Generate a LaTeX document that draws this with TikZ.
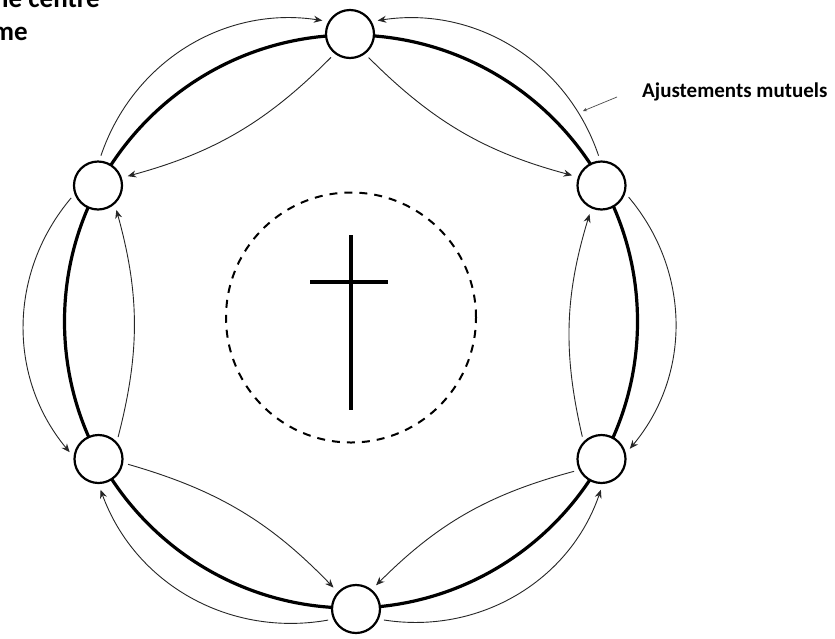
\documentclass[tikz,border=0pt]{standalone}
\usepackage{fontspec}
\setmainfont{Carlito}
\usetikzlibrary{arrows.meta}
\begin{document}
\begin{tikzpicture}[x=1pt,y=1pt,
  member/.style={circle,draw=black,line width=2.2pt,fill=white,minimum size=48pt,inner sep=0pt},
  ring/.style={line width=3.2pt,draw=black},
  flow/.style={line width=0.9pt,draw=black!85,-{Stealth[length=8.5pt,width=7pt]},shorten <=5pt,shorten >=6pt},
  lbl/.style={font=\bfseries\fontsize{21}{25}\selectfont,inner sep=0pt,text=black},
  bigtxt/.style={font=\bfseries\fontsize{27}{30}\selectfont,inner sep=0pt,text=black},
  pointer/.style={line width=0.7pt,draw=black!70,-{Stealth[length=4pt,width=3.5pt]}}
]
\useasboundingbox (0,0) rectangle (835,-638);
\fill[white] (0,0) rectangle (835,-638);
\clip (0,0) rectangle (835,-638);
% outer ring
\draw[ring] (351,-321.5) circle (286.5);
% centre
\draw[line width=2pt,dash pattern=on 8pt off 7pt] (351,-317.5) circle (125);
\draw[line width=4pt] (351,-235) -- (351,-410);
\draw[line width=4pt] (310,-281.5) -- (388,-281.5);
% members
\node[member] (T)  at (350,-34) {};
\node[member] (UR) at (601.5,-185.5) {};
\node[member] (LR) at (601.5,-459) {};
\node[member] (B)  at (356,-609) {};
\node[member] (LL) at (98.5,-459) {};
\node[member] (UL) at (98,-185.5) {};
% outer arrows
\draw[flow] (UR.93)  to[bend right=40] (T.30);
\draw[flow] (UL.87)  to[bend left=40]  (T.150);
\draw[flow] (UR.342) to[bend left=40]  (LR.13);
\draw[flow] (UL.200) to[bend right=40] (LL.175);
\draw[flow] (B.336)  to[bend right=40] (LR.273);
\draw[flow] (B.204)  to[bend left=40]  (LL.270);
% inner arrows
\draw[flow] (T.307)  to[bend right=15] (UR.160);
\draw[flow] (T.232)  to[bend left=15]  (UL.18);
\draw[flow] (LR.136) to[bend left=15]  (UR.246);
\draw[flow] (LL.43)  to[bend right=15] (UL.312);
\draw[flow] (LR.206) to[bend right=15] (B.51);
\draw[flow] (LL.351) to[bend left=15]  (B.137);
% labels
\node[lbl,anchor=base west] (aj) at (642,-97) {Ajustements mutuels};
\coordinate (p1) at (617,-97);
\coordinate (p2) at (583,-111);
\draw[pointer] (p1) -- (p2);
\node[bigtxt,anchor=base east] (t1) at (100,-7) {le centre};
\node[bigtxt,anchor=base east] (t2) at (28,-40) {me};
\end{tikzpicture}
\end{document}
